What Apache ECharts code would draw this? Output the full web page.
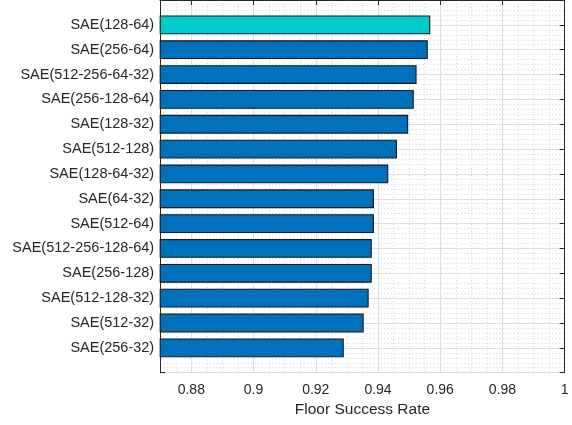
<!DOCTYPE html>
<html>
<head>
<meta charset="utf-8">
<script src="https://cdn.jsdelivr.net/npm/echarts@6/dist/echarts.min.js"></script>
<style>
  html, body { margin: 0; padding: 0; background: #ffffff; }
  #chart { width: 572px; height: 425px; }
</style>
</head>
<body>
<div id="chart"></div>
<script>
// Model variants, sorted best first
const models = [
  'SAE(128-64)', 'SAE(256-64)', 'SAE(512-256-64-32)', 'SAE(256-128-64)',
  'SAE(128-32)', 'SAE(512-128)', 'SAE(128-64-32)', 'SAE(64-32)',
  'SAE(512-64)', 'SAE(512-256-128-64)', 'SAE(256-128)', 'SAE(512-128-32)',
  'SAE(512-32)', 'SAE(256-32)'
];
const successRate = [
  0.9568, 0.9560, 0.9524, 0.9515, 0.9497, 0.9461, 0.9433, 0.9387,
  0.9387, 0.9380, 0.9380, 0.9370, 0.9354, 0.9290
];
const xMin = 0.87;
const xMax = 1.0;

const BLUE = '#0072BD';
const TEAL = '#00CCCC';
const TEXT = '#262626';
const AXIS = '#262626';

// Empty slots above and below the bars give the axis its padding
const yCats = [''].concat(models, ['']);
const best = Math.max.apply(null, successRate);
const barData = [null].concat(successRate.map(v => ({
  value: v,
  itemStyle: { color: v === best ? TEAL : BLUE }
})), [null]);

const chart = echarts.init(document.getElementById('chart'), null, { renderer: 'canvas' });

const font = '"Liberation Sans", Arial, Helvetica, sans-serif';

chart.setOption({
  animation: false,
  backgroundColor: '#ffffff',
  grid: { left: 160.2, right: 7.3, top: -1.2, bottom: 52.3, containLabel: false },
  xAxis: [
    {
      type: 'value', position: 'bottom', min: xMin, max: xMax, splitNumber: 6,
      name: 'Floor Success Rate', nameLocation: 'middle', nameGap: 29,
      nameTextStyle: { color: TEXT, fontSize: 15.5, fontFamily: font },
      axisLine: { show: true, lineStyle: { color: AXIS, width: 1 } },
      axisTick: { show: true, inside: true, length: 5, lineStyle: { color: AXIS } },
      axisLabel: {
        color: TEXT, fontSize: 14, fontFamily: font, margin: 10,
        showMinLabel: false,
        formatter: v => (Math.abs(v - xMin) < 1e-9 ? '' : String(+v.toFixed(2)))
      },
      splitLine: { show: true, lineStyle: { color: '#dedede', width: 1 } },
      minorTick: { show: false, splitNumber: 4 },
      minorSplitLine: { show: true, lineStyle: { color: '#d4d4d4', width: 1, type: [1, 2.5] } }
    },
    {
      type: 'value', position: 'top', min: xMin, max: xMax, splitNumber: 6,
      axisLine: { show: true, lineStyle: { color: AXIS, width: 1 } },
      axisTick: { show: true, inside: true, length: 5, lineStyle: { color: AXIS } },
      axisLabel: { show: false },
      splitLine: { show: false }
    }
  ],
  yAxis: [
    {
      type: 'category', position: 'left', data: yCats, inverse: true, boundaryGap: false,
      axisLine: { show: true, lineStyle: { color: AXIS, width: 1 } },
      axisTick: { show: true, inside: true, length: 5, interval: 0, lineStyle: { color: AXIS } },
      axisLabel: { color: TEXT, fontSize: 14.5, fontFamily: font, margin: 6, interval: 0 },
      splitLine: { show: false }
    },
    {
      type: 'value', position: 'right', min: 0, max: yCats.length - 1, interval: 1, inverse: true,
      axisLine: { show: true, lineStyle: { color: AXIS, width: 1 } },
      axisTick: { show: true, inside: true, length: 5, lineStyle: { color: AXIS } },
      axisLabel: { show: false },
      splitLine: { show: true, lineStyle: { color: '#dedede', width: 1 } },
      minorTick: { show: false, splitNumber: 5 },
      minorSplitLine: { show: true, lineStyle: { color: '#d4d4d4', width: 1, type: [1, 2.5] } }
    }
  ],
  series: [
    {
      type: 'bar', xAxisIndex: 0, yAxisIndex: 0,
      data: barData,
      barWidth: 18.8,
      itemStyle: { borderColor: '#1a1a1a', borderWidth: 1.1 },
      z: 5
    }
  ]
});
</script>
</body>
</html>
